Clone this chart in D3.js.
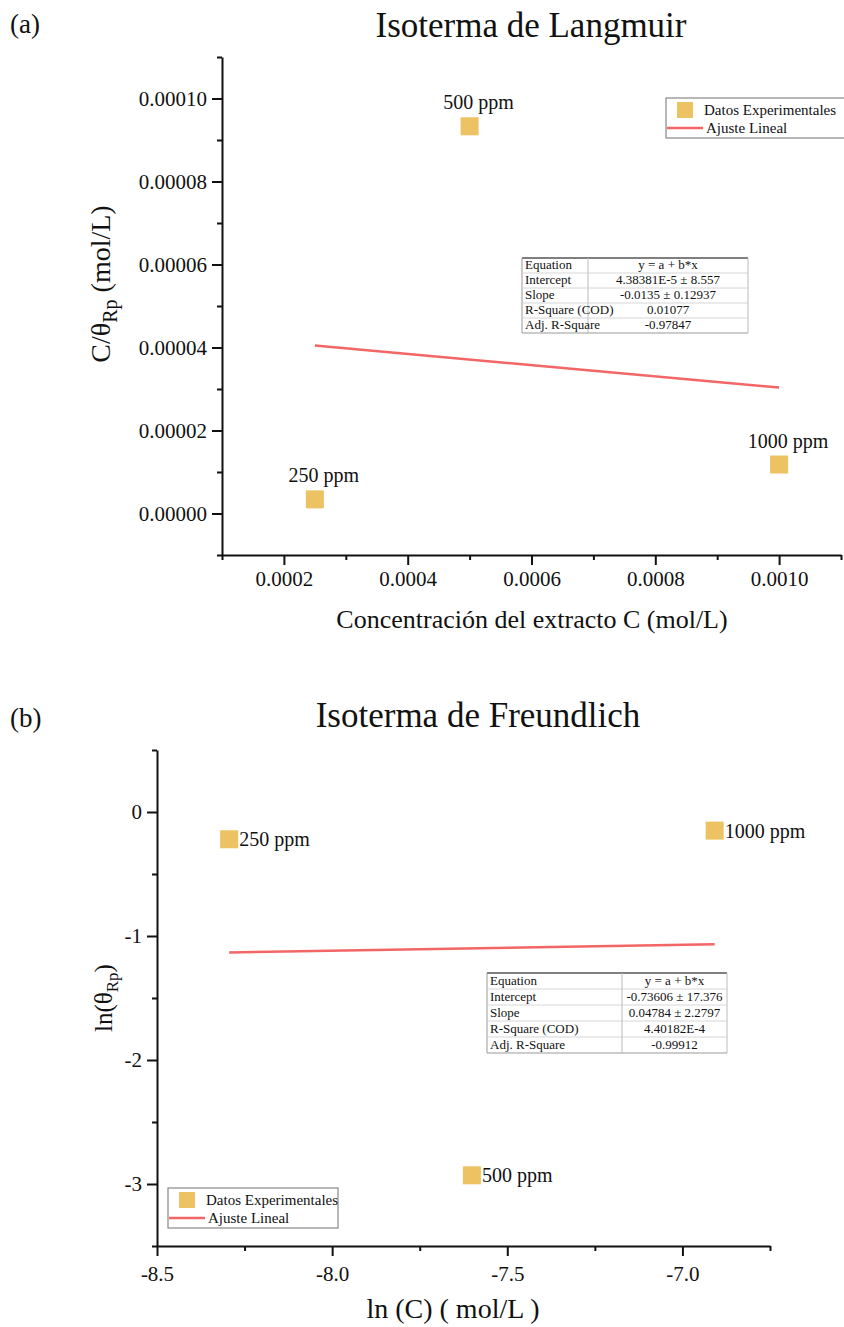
<!DOCTYPE html>
<html>
<head>
<meta charset="utf-8">
<script src="https://cdn.jsdelivr.net/npm/d3@7"></script>
<style>
  html, body { margin: 0; padding: 0; background: #fff; }
  svg { display: block; }
  text { font-family: "Liberation Serif", "Times New Roman", serif; fill: #111; }
</style>
</head>
<body>
<svg id="chart" width="844" height="1327"></svg>
<script>
// ---- Data ----
const sampleLabels = ["250 ppm", "500 ppm", "1000 ppm"];

// (a) Langmuir: C vs C/theta
const concC = [0.00025, 0.0005, 0.0010];
const langmuirY = [0.0000034, 0.0000933, 0.0000118];
const langmuirIntercept = 4.38381e-5;
const langmuirSlope = -0.0135;
const langmuirXTicks = [0.0002, 0.0004, 0.0006, 0.0008, 0.0010];
const langmuirXMinor = [0.0001, 0.0003, 0.0005, 0.0007, 0.0009, 0.0011];
const langmuirYTicks = [0, 0.00002, 0.00004, 0.00006, 0.00008, 0.00010];
const langmuirYMinor = [-0.00001, 0.00001, 0.00003, 0.00005, 0.00007, 0.00009, 0.00011];
const langmuirStats = [
  ["Equation", "y = a + b*x"],
  ["Intercept", "4.38381E-5 ± 8.557"],
  ["Slope", "-0.0135 ± 0.12937"],
  ["R-Square (COD)", "0.01077"],
  ["Adj. R-Square", "-0.97847"]
];

// (b) Freundlich: ln C vs ln theta
const lnC = [-8.294, -7.601, -6.908];
const lnTheta = [-0.22, -2.93, -0.15];
const freundIntercept = -0.73606;
const freundSlope = 0.04784;
const freundXTicks = [-8.5, -8.0, -7.5, -7.0];
const freundXMinor = [-8.25, -7.75, -7.25, -6.75];
const freundYTicks = [-3, -2, -1, 0];
const freundYMinor = [-3.5, -2.5, -1.5, -0.5, 0.5];
const freundStats = [
  ["Equation", "y = a + b*x"],
  ["Intercept", "-0.73606 ± 17.376"],
  ["Slope", "0.04784 ± 2.2797"],
  ["R-Square (COD)", "4.40182E-4"],
  ["Adj. R-Square", "-0.99912"]
];

const legendItems = ["Datos Experimentales", "Ajuste Lineal"];

// ---- Style ----
const MARKER = "#ECC263";
const FIT = "#F26666";
const MS = 18; // marker size

const svg = d3.select("#chart");

// plain hyphen for negative numbers
const hy = (f) => (v) => f(v).replace("−", "-");

function drawAxes(g, x, y, xt, xm, yt, ym, xfmt, yfmt, fs, xpad) {
  const xa = g.append("g").attr("transform", `translate(0,${y.range()[0]})`)
    .call(d3.axisBottom(x).tickValues(xt).tickSize(10).tickSizeOuter(0).tickPadding(xpad).tickFormat(hy(xfmt)));
  const xm_ = g.append("g").attr("transform", `translate(0,${y.range()[0]})`)
    .call(d3.axisBottom(x).tickValues(xm).tickSize(5).tickSizeOuter(0).tickFormat(""));
  const ya = g.append("g").attr("transform", `translate(${x.range()[0]},0)`)
    .call(d3.axisLeft(y).tickValues(yt).tickSize(10).tickSizeOuter(0).tickPadding(5).tickFormat(hy(yfmt)));
  const ym_ = g.append("g").attr("transform", `translate(${x.range()[0]},0)`)
    .call(d3.axisLeft(y).tickValues(ym).tickSize(5).tickSizeOuter(0).tickFormat(""));
  [xa, xm_, ya, ym_].forEach(a => {
    a.selectAll(".domain").attr("stroke", "#111").attr("stroke-width", 2);
    a.selectAll(".tick line").attr("stroke", "#111").attr("stroke-width", 2);
    a.selectAll(".tick text").attr("font-family", "Liberation Serif").attr("font-size", fs).attr("fill", "#222");
  });
  xm_.select(".domain").remove();
  ym_.select(".domain").remove();
}

function drawTable(g, rows, x0, y0, w, colDiv, rowH) {
  const t = g.append("g");
  const h = rows.length * rowH;
  t.append("line").attr("x1", x0).attr("x2", x0 + w).attr("y1", y0).attr("y2", y0)
    .attr("stroke", "#555").attr("stroke-width", 1.5);
  t.append("line").attr("x1", x0).attr("x2", x0 + w).attr("y1", y0 + h).attr("y2", y0 + h)
    .attr("stroke", "#999").attr("stroke-width", 1);
  t.append("line").attr("x1", x0).attr("x2", x0).attr("y1", y0).attr("y2", y0 + h)
    .attr("stroke", "#999").attr("stroke-width", 1);
  t.append("line").attr("x1", x0 + w).attr("x2", x0 + w).attr("y1", y0).attr("y2", y0 + h)
    .attr("stroke", "#bbb").attr("stroke-width", 1);
  t.append("line").attr("x1", x0 + colDiv).attr("x2", x0 + colDiv).attr("y1", y0).attr("y2", y0 + h)
    .attr("stroke", "#bbb").attr("stroke-width", 1);
  rows.forEach((r, i) => {
    if (i > 0) {
      t.append("line").attr("x1", x0).attr("x2", x0 + w)
        .attr("y1", y0 + i * rowH).attr("y2", y0 + i * rowH)
        .attr("stroke", "#ccc").attr("stroke-width", 0.8);
    }
    t.append("text").attr("x", x0 + 3).attr("y", y0 + i * rowH + rowH - 4)
      .attr("font-size", 13).text(r[0]);
    t.append("text").attr("x", x0 + colDiv + (w - colDiv) / 2).attr("y", y0 + i * rowH + rowH - 4)
      .attr("text-anchor", "middle").attr("font-size", 13).text(r[1]);
  });
}

function drawLegend(g, x0, y0, w, h) {
  const l = g.append("g");
  l.append("rect").attr("x", x0).attr("y", y0).attr("width", w).attr("height", h)
    .attr("fill", "#fff").attr("stroke", "#888").attr("stroke-width", 1.2);
  l.append("rect").attr("x", x0 + 11).attr("y", y0 + 4).attr("width", 16).attr("height", 16)
    .attr("fill", MARKER);
  l.append("text").attr("x", x0 + 38).attr("y", y0 + 17).attr("font-size", 15).attr("fill", "#223")
    .text(legendItems[0]);
  l.append("line").attr("x1", x0 + 1).attr("x2", x0 + 37).attr("y1", y0 + 30).attr("y2", y0 + 30)
    .attr("stroke", FIT).attr("stroke-width", 2.5);
  l.append("text").attr("x", x0 + 40).attr("y", y0 + 35).attr("font-size", 15).attr("fill", "#223")
    .text(legendItems[1]);
}

// ================= (a) Langmuir =================
{
  const g = svg.append("g");
  const x = d3.scaleLinear().domain([0.0001, 0.0011]).range([222, 841]);
  const y = d3.scaleLinear().domain([-0.00001, 0.00011]).range([555, 57]);

  g.append("text").attr("x", 10).attr("y", 33).attr("font-size", 27).text("(a)");
  g.append("text").attr("x", 531).attr("y", 37).attr("text-anchor", "middle")
    .attr("font-size", 35).text("Isoterma de Langmuir");

  drawAxes(g, x, y, langmuirXTicks, langmuirXMinor, langmuirYTicks, langmuirYMinor,
    d3.format(".4f"), d3.format(".5f"), 21, 6);

  // fitted line across the data range
  const xr = d3.extent(concC);
  g.append("line")
    .attr("x1", x(xr[0])).attr("y1", y(langmuirIntercept + langmuirSlope * xr[0]))
    .attr("x2", x(xr[1])).attr("y2", y(langmuirIntercept + langmuirSlope * xr[1]))
    .attr("stroke", FIT).attr("stroke-width", 2.5);

  g.selectAll(".pt").data(concC).join("rect")
    .attr("x", (d) => x(d) - MS / 2)
    .attr("y", (d, i) => y(langmuirY[i]) - MS / 2)
    .attr("width", MS).attr("height", MS).attr("fill", MARKER);

  g.selectAll(".lbl").data(concC).join("text")
    .attr("x", (d) => x(d) + 9)
    .attr("y", (d, i) => y(langmuirY[i]) - 17)
    .attr("text-anchor", "middle").attr("font-size", 20)
    .text((d, i) => sampleLabels[i]);

  drawLegend(g, 666, 98, 180, 40);
  drawTable(g, langmuirStats, 522, 258, 226, 66, 15);

  const yl = g.append("text").attr("transform", "translate(110,284) rotate(-90)")
    .attr("text-anchor", "middle").attr("font-size", 28);
  yl.append("tspan").text("C/θ");
  yl.append("tspan").attr("font-size", 20).attr("dy", 7).text("Rp");
  yl.append("tspan").attr("dy", -7).text(" (mol/L)");

  g.append("text").attr("x", 532).attr("y", 628).attr("text-anchor", "middle")
    .attr("font-size", 26).text("Concentración del extracto C (mol/L)");
}

// ================= (b) Freundlich =================
{
  const g = svg.append("g");
  const x = d3.scaleLinear().domain([-8.5, -6.75]).range([157, 770]);
  const y = d3.scaleLinear().domain([-3.5, 0.5]).range([1246, 750]);

  g.append("text").attr("x", 10).attr("y", 727).attr("font-size", 27).text("(b)");
  g.append("text").attr("x", 478).attr("y", 727).attr("text-anchor", "middle")
    .attr("font-size", 35).text("Isoterma de Freundlich");

  drawAxes(g, x, y, freundXTicks, freundXMinor, freundYTicks, freundYMinor,
    d3.format(".1f"), d3.format("d"), 21, 10);

  const xr = d3.extent(lnC);
  g.append("line")
    .attr("x1", x(xr[0])).attr("y1", y(freundIntercept + freundSlope * xr[0]))
    .attr("x2", x(xr[1])).attr("y2", y(freundIntercept + freundSlope * xr[1]))
    .attr("stroke", FIT).attr("stroke-width", 2.5);

  g.selectAll(".pt").data(lnC).join("rect")
    .attr("x", (d) => x(d) - MS / 2)
    .attr("y", (d, i) => y(lnTheta[i]) - MS / 2)
    .attr("width", MS).attr("height", MS).attr("fill", MARKER);

  g.selectAll(".lbl").data(lnC).join("text")
    .attr("x", (d) => x(d) + 10)
    .attr("y", (d, i) => y(lnTheta[i]) + 7)
    .attr("font-size", 20)
    .text((d, i) => sampleLabels[i]);

  drawLegend(g, 168, 1188, 170, 40);
  drawTable(g, freundStats, 487, 973, 240, 135, 16);

  const yl = g.append("text").attr("transform", "translate(112,998) rotate(-90)")
    .attr("text-anchor", "middle").attr("font-size", 25);
  yl.append("tspan").text("ln(θ");
  yl.append("tspan").attr("font-size", 17).attr("dy", 6).text("Rp");
  yl.append("tspan").attr("dy", -6).text(")");

  g.append("text").attr("x", 453).attr("y", 1318).attr("text-anchor", "middle")
    .attr("font-size", 28).text("ln (C) ( mol/L )");
}
</script>
</body>
</html>
